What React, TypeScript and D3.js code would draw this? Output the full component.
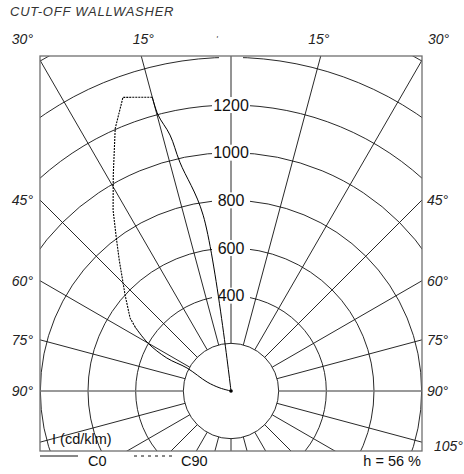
import React from 'react';
import * as d3 from 'd3';

// Polar diagram data (I in cd/klm, angles in degrees from the vertical axis)
const RINGS = [200, 400, 600, 800, 1000, 1200, 1400, 1600];
const RING_LABELS = [400, 600, 800, 1000, 1200];
const RING_GAPS = [1400];
const SPOKES = [0, 15, 30, 45, 60, 75, 90, 105, 120, 135, 150, 165, 180];
const TOP_LABELS = [30, 15];
const SIDE_LABELS = [45, 60, 75, 90];
const RIGHT_ONLY_LABELS = [105];

// C0: null where only the C90 trace is visible
const C0_ANGLES = [0, 9, 12.6, 13.4, 14.8, 15, 20.2, 56.3, 60, 62.8, 62.4, 69.4, 74.7, 90];
const C0_VALUES = [0, 747, 984, 1104, 1198, 1276, null, 483, 403, 303, 208, 107, 48, 0];
const C90_ANGLES = [15, 20.2, 23.8, 28.6, 33.1, 36.7, 40.5, 47.8, 54.1, 56.3];
const C90_VALUES = [1276, 1313, 1204, 1032, 906, 806, 722, 600, 523, 483];

const TITLE = 'CUT-OFF WALLWASHER';
const UNIT = 'I (cd/klm)';
const EFFICIENCY = 'h = 56 %';

const W = 464;
const H = 474;
const box = { l: 40, t: 56, r: 422, b: 451 };
const cx = (box.l + box.r) / 2;
const cy = 391;

export default function App() {
  const rScale = d3.scaleLinear().domain([0, 1600]).range([0, 381.3]);
  const rad = (a: number) => (a * Math.PI) / 180;
  // side = 1 -> left of axis, -1 -> right of axis
  const pt = (a: number, v: number, side = 1): [number, number] => {
    const r = rScale(v);
    return [cx - side * r * Math.sin(rad(a)), cy - r * Math.cos(rad(a))];
  };
  const makeLine = (curve: d3.CurveFactory) =>
    d3
      .line<{ a: number; v: number | null }>()
      .defined((d) => d.v !== null)
      .x((d) => pt(d.a, d.v as number)[0])
      .y((d) => pt(d.a, d.v as number)[1])
      .curve(curve);

  const c0 = makeLine(d3.curveCatmullRom.alpha(0.5))(C0_ANGLES.map((a, i) => ({ a, v: C0_VALUES[i] })));
  const c90 = makeLine(d3.curveLinear)(C90_ANGLES.map((a, i) => ({ a, v: C90_VALUES[i] })));

  const r0 = rScale(200);
  const spokes: { a: number; side: number }[] = [];
  SPOKES.forEach((a) => {
    spokes.push({ a, side: 1 });
    if (a !== 0 && a !== 180) spokes.push({ a, side: -1 });
  });

  const font = "'Liberation Sans', Arial, Helvetica, sans-serif";
  const halfW = box.r - cx;

  return (
    <svg
      width={W}
      height={H}
      style={{ position: 'absolute', left: 0, top: 0, background: '#fff' }}
      fontFamily={font}
    >
      <defs>
        <clipPath id="boxClip">
          <rect x={box.l} y={box.t} width={box.r - box.l} height={box.b - box.t} />
        </clipPath>
      </defs>

      <text x={10} y={16} fontSize={13} fontStyle="italic" fill="#333" letterSpacing={0.75}>
        {TITLE}
      </text>

      <g clipPath="url(#boxClip)">
        {RINGS.map((v) => (
          <circle key={v} cx={cx} cy={cy} r={rScale(v)} fill="none" stroke="#111" strokeWidth={0.9} />
        ))}
        {RING_GAPS.map((v) => (
          <rect key={v} x={cx - 12} y={cy - rScale(v) - 8} width={24} height={16} fill="#fff" />
        ))}
        {spokes.map(({ a, side }) => {
          const [x1, y1] = [cx - side * r0 * Math.sin(rad(a)), cy - r0 * Math.cos(rad(a))];
          const [x2, y2] = [cx - side * 600 * Math.sin(rad(a)), cy - 600 * Math.cos(rad(a))];
          return (
            <line
              key={`${a}-${side}`}
              x1={x1}
              y1={y1}
              x2={x2}
              y2={y2}
              stroke={a === 90 ? '#777' : '#111'}
              strokeWidth={a === 90 ? 1.3 : 0.9}
            />
          );
        })}
        {RING_LABELS.map((v) => (
          <rect key={v} x={cx - 19} y={cy - rScale(v) - 8} width={38} height={16} fill="#fff" />
        ))}
        <path d={c0 ?? ''} fill="none" stroke="#000" strokeWidth={1} />
        <path d={c90 ?? ''} fill="none" stroke="#000" strokeWidth={1.1} strokeDasharray="2,1" />
        <circle cx={cx} cy={cy} r={1.8} fill="#000" />
      </g>

      <rect
        x={box.l}
        y={box.t}
        width={box.r - box.l}
        height={box.b - box.t}
        fill="none"
        stroke="#6f6f6f"
        strokeWidth={1.3}
      />

      {RING_LABELS.map((v) => (
        <text key={v} x={cx} y={cy - rScale(v)} fontSize={16} textAnchor="middle" dominantBaseline="central" fill="#111">
          {v}
        </text>
      ))}

      {TOP_LABELS.map((a) => {
        const lx = cx - (cy - box.t) * Math.tan(rad(a));
        const rx = cx + (cy - box.t) * Math.tan(rad(a));
        const corner = lx < box.l + 5;
        return (
          <g key={a} fontSize={14} fontStyle="italic" fill="#222">
            <text x={corner ? box.l - 7 : lx + 2} y={44} textAnchor={corner ? 'end' : 'middle'}>
              {`${a}°`}
            </text>
            <text x={corner ? box.r + 6 : rx - 2} y={44} textAnchor={corner ? 'start' : 'middle'}>
              {`${a}°`}
            </text>
          </g>
        );
      })}
      <text x={216} y={42} fontSize={9} fontStyle="italic" fill="#444">
        '
      </text>

      {SIDE_LABELS.map((a) => {
        const y = cy - halfW / Math.tan(rad(a));
        return (
          <g key={a} fontSize={14} fontStyle="italic" fill="#222">
            <text x={box.l - 7} y={y} textAnchor="end" dominantBaseline="central">
              {`${a}°`}
            </text>
            <text x={box.r + 5} y={y} dominantBaseline="central">
              {`${a}°`}
            </text>
          </g>
        );
      })}
      {RIGHT_ONLY_LABELS.map((a) => {
        const y = cy - halfW / Math.tan(rad(a)) + 4;
        return (
          <text key={a} x={box.r + 12} y={y} fontSize={14} fontStyle="italic" fill="#222" dominantBaseline="central">
            {`${a}°`}
          </text>
        );
      })}

      <text x={52} y={444} fontSize={14.5} fill="#111">
        {UNIT}
      </text>

      <line x1={40} y1={456} x2={78} y2={456} stroke="#111" strokeWidth={1} />
      <text x={88} y={466} fontSize={14.5} fill="#111">
        C0
      </text>
      <line x1={134} y1={456} x2={172} y2={456} stroke="#111" strokeWidth={1} strokeDasharray="3,4" />
      <text x={181} y={466} fontSize={14.5} fill="#111">
        C90
      </text>
      <text x={421} y={466} fontSize={14.5} textAnchor="end" fill="#111">
        {EFFICIENCY}
      </text>
    </svg>
  );
}
